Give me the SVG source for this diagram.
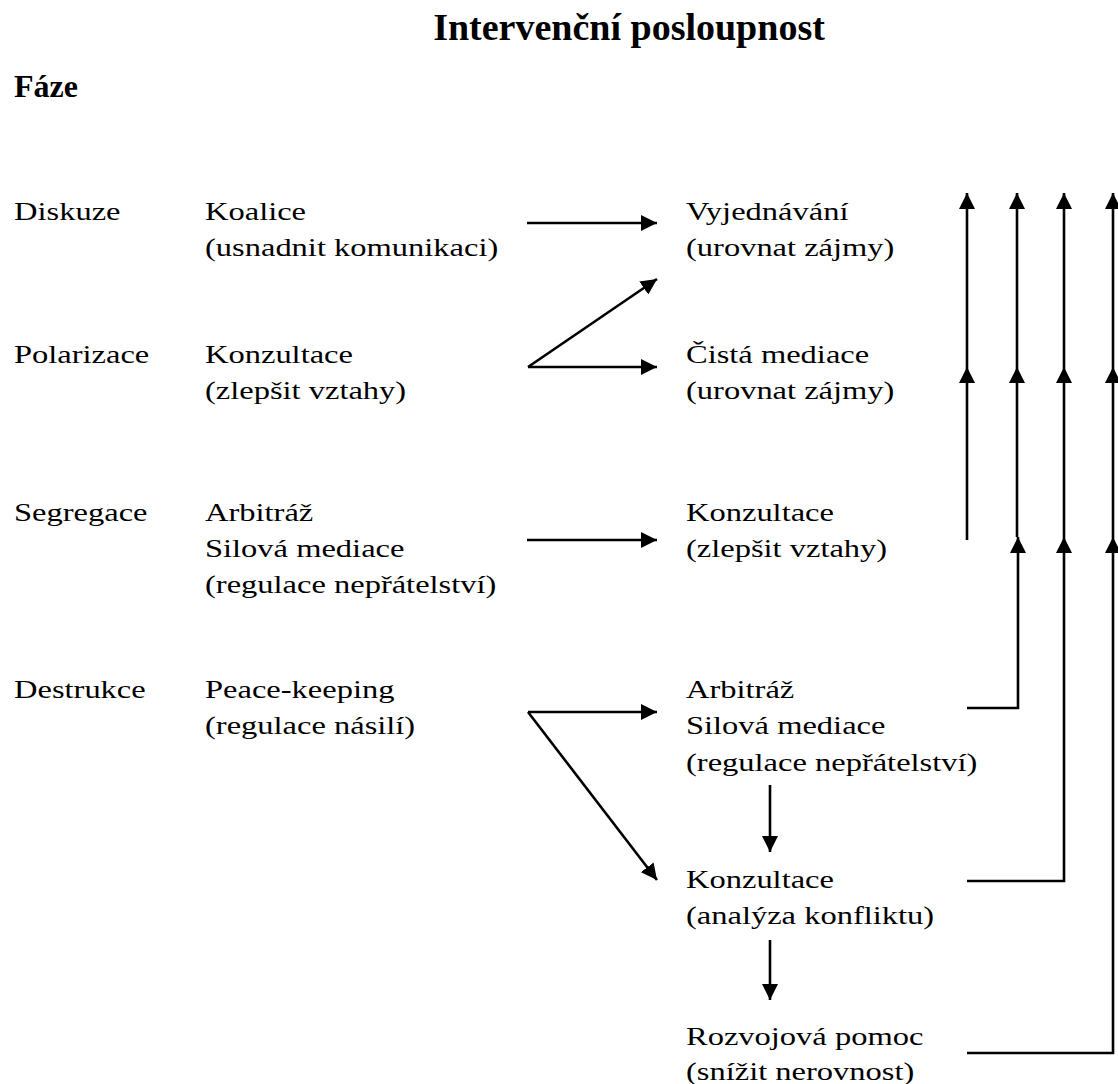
<svg xmlns="http://www.w3.org/2000/svg" width="1118" height="1084" viewBox="0 0 1118 1084">
<defs>
<style>
.t{font-family:"Liberation Serif","Times New Roman",serif;fill:#000}
.b{font-size:26px}
.title{font-size:38px;font-weight:bold}
.head{font-size:32px;font-weight:bold}
.c{fill:none;stroke:#000;stroke-width:2.6}
.a{marker-end:url(#ah)}
</style>
<marker id="ah" markerUnits="userSpaceOnUse" markerWidth="16" markerHeight="16" refX="16" refY="8" orient="auto">
<path d="M0,0 L16,8 L0,16 z" fill="#000"/>
</marker>
</defs>
<rect width="1118" height="1084" fill="#fff"/>
<text id="title" class="t title" x="629" y="40" text-anchor="middle">Intervenční posloupnost</text>
<text id="faze" class="t head" x="14" y="97">Fáze</text>

<g id="phase-diskuze" transform="translate(14,220) scale(1.25,1)"><text class="t b">Diskuze</text></g>
<g id="phase-polarizace" transform="translate(14,363) scale(1.25,1)"><text class="t b">Polarizace</text></g>
<g id="phase-segregace" transform="translate(14,521) scale(1.25,1)"><text class="t b">Segregace</text></g>
<g id="phase-destrukce" transform="translate(14,698) scale(1.25,1)"><text class="t b">Destrukce</text></g>

<g id="koalice" transform="translate(205,220) scale(1.25,1)"><text class="t b">Koalice</text><text class="t b" y="36">(usnadnit komunikaci)</text></g>
<g id="konzultace1" transform="translate(205,363) scale(1.25,1)"><text class="t b">Konzultace</text><text class="t b" y="36">(zlepšit vztahy)</text></g>
<g id="arbitraz1" transform="translate(205,521) scale(1.25,1)"><text class="t b">Arbitráž</text><text class="t b" y="36">Silová mediace</text><text class="t b" y="72">(regulace nepřátelství)</text></g>
<g id="peacekeeping" transform="translate(205,698) scale(1.25,1)"><text class="t b">Peace-keeping</text><text class="t b" y="36">(regulace násilí)</text></g>

<g id="vyjednavani" transform="translate(686,220) scale(1.25,1)"><text class="t b">Vyjednávání</text><text class="t b" y="36">(urovnat zájmy)</text></g>
<g id="cista-mediace" transform="translate(686,363) scale(1.25,1)"><text class="t b">Čistá mediace</text><text class="t b" y="36">(urovnat zájmy)</text></g>
<g id="konzultace2" transform="translate(686,521) scale(1.25,1)"><text class="t b">Konzultace</text><text class="t b" y="36">(zlepšit vztahy)</text></g>
<g id="arbitraz2" transform="translate(686,698) scale(1.25,1)"><text class="t b">Arbitráž</text><text class="t b" y="36">Silová mediace</text><text class="t b" y="73">(regulace nepřátelství)</text></g>
<g id="konzultace3" transform="translate(686,888) scale(1.25,1)"><text class="t b">Konzultace</text><text class="t b" y="36">(analýza konfliktu)</text></g>
<g id="rozvojova" transform="translate(686,1045) scale(1.25,1)"><text class="t b">Rozvojová pomoc</text><text class="t b" y="35">(snížit nerovnost)</text></g>

<g id="connectors">
<path class="c a" d="M527,223 H657"/>
<path class="c a" d="M528,367 L657,279"/>
<path class="c a" d="M528,367 H657"/>
<path class="c a" d="M527,540 H657"/>
<path class="c a" d="M528,712 H657"/>
<path class="c a" d="M528,712 L657,880"/>
<path class="c a" d="M770,785 V852"/>
<path class="c a" d="M770,940 V1000"/>

<path class="c a" d="M967,540 V367"/>
<path class="c a" d="M967,367 V193"/>

<path class="c a" d="M967,708 H1018 V537"/>
<path class="c a" d="M1017,537 V367"/>
<path class="c a" d="M1017,367 V193"/>

<path class="c a" d="M967,881 H1064 V537"/>
<path class="c a" d="M1064,537 V367"/>
<path class="c a" d="M1064,367 V193"/>

<path class="c a" d="M967,1053 H1113 V537"/>
<path class="c a" d="M1113,537 V367"/>
<path class="c a" d="M1113,367 V193"/>
</g>
</svg>
